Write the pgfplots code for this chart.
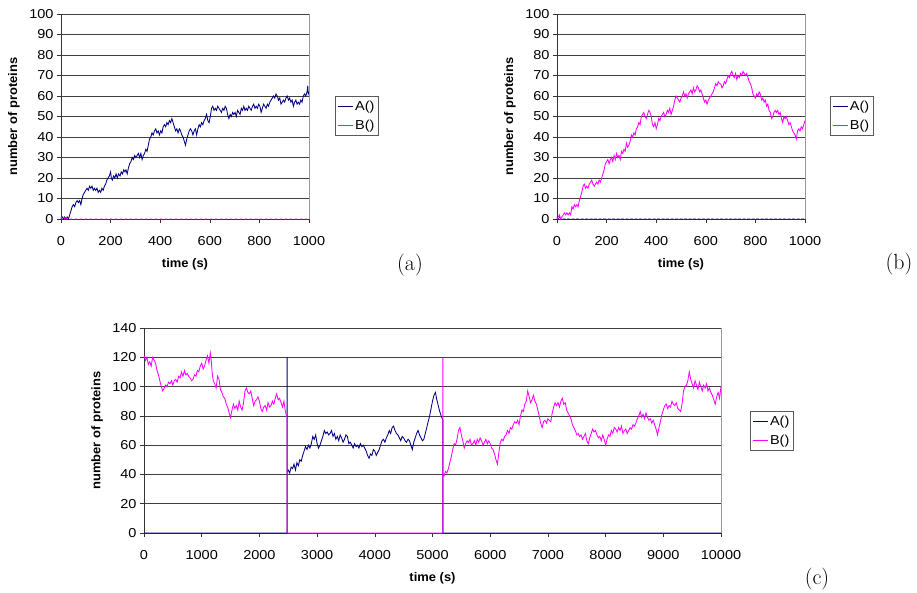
\documentclass[border=0pt]{standalone}
\usepackage{fontspec}
\usepackage{pgfplots}
\pgfplotsset{compat=1.18}
\newfontfamily\arialx{Liberation Sans}[FakeStretch=1.12]
\newfontfamily\arialb{Liberation Sans}[FakeStretch=1.04]
\newcommand\tickfont{\fontsize{13}{15}\arialx}
\newcommand\legfont{\fontsize{13}{15}\arialx}
\newcommand\labfont{\fontsize{12.5}{14}\arialb\bfseries}
\definecolor{navyA}{RGB}{0,0,128}
\definecolor{magB}{RGB}{255,0,255}
\pgfplotsset{
  chartstyle/.style={
    scale only axis, height=205bp, clip=false,
    axis x line*=bottom, axis y line*=left,
    axis line style={black!80, line width=0.6bp, -},
    ymajorgrids, grid style={black!75, line width=0.6bp},
    tick align=outside, major tick length=4bp,
    tick style={black!80, line width=0.6bp},
    scaled x ticks=false, scaled y ticks=false,
    /pgf/number format/assume math mode=true,
    /pgf/number format/1000 sep={},
    tick label style={font=\tickfont},
    xticklabel style={yshift=-10bp},
    label style={font=\labfont},
    xlabel style={at={(axis description cs:0.5,-0.22)}, anchor=center},
    legend style={draw=black!65, line width=0.6bp, font=\legfont, cells={anchor=west}, inner xsep=2bp, inner ysep=2.5bp, row sep=4bp},
    legend image code/.code={\draw[#1, solid] (0bp,0bp) -- (15bp,0bp);},
    every axis plot/.append style={line width=0.85bp},
  }
}
\begin{document}
\begin{tikzpicture}
\path[use as bounding box] (0,0) rectangle (917bp,-593bp);
% (a)
\begin{axis}[chartstyle, width=248bp, at={(61bp,-219bp)}, anchor=south west,
  xmin=0, xmax=1000, ymin=0, ymax=100,
  xtick={0,200,...,1000}, ytick={0,10,...,100},
  xlabel={time (s)}, ylabel={number of proteins},
  ylabel style={at={(axis description cs:-0.19,0.5)}, anchor=center},
  legend style={at={(1.105,0.6)}, anchor=north west}]
\addplot[navyA] coordinates {(0,0) (5,1) (10,0) (15,1) (20,0) (25,1) (30,0) (35,2) (40,4) (45,6) (50,7) (55,6) (60,8) (65,9) (70,8) (75,9) (80,7) (85,10) (90,12) (95,13) (100,14) (105,15) (110,14) (115,16) (120,15) (125,16) (130,14) (135,15) (140,14) (145,15) (150,13) (155,14) (160,13) (165,15) (170,14) (175,16) (180,17) (185,19) (190,20) (195,21) (200,23) (203,20) (207,19) (212,21) (217,20) (222,22) (227,20) (232,22) (238,21) (243,23) (248,22) (253,24) (258,23) (262,24) (267,22) (272,25) (277,27) (282,28) (287,30) (292,29) (297,31) (302,30) (307,31) (312,32) (317,30) (322,32) (327,29) (332,31) (337,32) (342,34) (347,33) (352,36) (357,39) (362,40) (367,42) (372,41) (377,43) (382,44) (387,42) (392,43) (397,41) (402,43) (407,42) (412,45) (417,46) (422,45) (427,47) (432,46) (437,48) (442,47) (447,49) (452,47) (457,45) (462,43) (467,44) (472,42) (477,44) (482,43) (487,41) (492,40) (497,38) (502,36) (507,39) (512,41) (517,43) (522,44) (527,43) (532,41) (537,43) (542,44) (547,41) (552,44) (557,46) (562,45) (567,47) (572,46) (577,48) (582,49) (587,51) (592,48) (597,47) (602,50) (607,54) (612,55) (617,53) (622,54) (627,53) (632,55) (637,54) (642,53) (647,52) (652,54) (657,53) (662,55) (667,54) (672,51) (677,49) (682,51) (687,50) (692,52) (697,51) (702,52) (707,50) (712,53) (717,52) (722,51) (727,54) (732,53) (737,55) (742,53) (747,54) (752,53) (757,55) (762,54) (767,53) (772,55) (777,56) (782,54) (787,55) (792,54) (797,56) (802,55) (807,52) (812,54) (817,56) (822,55) (827,54) (832,56) (837,55) (842,57) (847,58) (852,59) (857,60) (862,59) (867,61) (872,60) (877,58) (882,59) (887,56) (892,57) (897,58) (902,57) (907,59) (912,60) (917,58) (922,59) (927,57) (932,58) (937,55) (942,57) (947,58) (952,56) (957,57) (962,56) (967,58) (972,57) (977,60) (982,61) (987,60) (992,62) (995,65) (997,61) (1000,62)};
\addlegendentry{A()}
\addplot[magB, dash pattern=on 2bp off 3bp] coordinates {(0,1) (5,0) (10,1) (15,0) (20,1) (25,0) (30,0) (1000,0)};
\addlegendentry{B()}
\draw[black!40, line width=0.6bp] (rel axis cs:1,0) -- (rel axis cs:1,1);
\end{axis}
% (b)
\begin{axis}[chartstyle, width=248bp, at={(557bp,-219bp)}, anchor=south west,
  xmin=0, xmax=1000, ymin=0, ymax=100,
  xtick={0,200,...,1000}, ytick={0,10,...,100},
  xlabel={time (s)}, ylabel={number of proteins},
  ylabel style={at={(axis description cs:-0.19,0.5)}, anchor=center},
  legend style={at={(1.1,0.6)}, anchor=north west}]
\addplot[navyA, dash pattern=on 3bp off 1.5bp] coordinates {(0,1) (5,0) (10,1) (15,0) (20,0) (1000,0)};
\addlegendentry{A()}
\addplot[magB] coordinates {(0,0) (5,1) (10,2) (15,0) (20,1) (25,2) (30,3) (35,2) (40,3) (45,2) (50,3) (55,2) (60,6) (65,5) (70,7) (75,6) (80,7) (85,6) (90,9) (95,11) (100,13) (105,16) (110,17) (115,15) (120,16) (125,15) (130,17) (135,18) (140,19) (145,17) (150,16) (155,17) (160,18) (165,17) (170,19) (175,18) (180,20) (185,22) (190,24) (195,27) (200,28) (205,29) (210,27) (215,29) (220,30) (225,28) (230,31) (235,29) (240,32) (245,30) (250,31) (255,29) (260,33) (265,32) (270,34) (275,33) (280,37) (285,35) (290,36) (295,38) (300,41) (305,40) (310,42) (315,41) (320,44) (325,45) (330,47) (335,46) (340,50) (345,51) (350,52) (355,50) (360,49) (365,51) (370,53) (375,52) (380,50) (385,46) (390,45) (395,47) (400,44) (405,46) (410,49) (415,48) (420,50) (425,51) (430,52) (435,50) (440,51) (445,53) (450,52) (455,54) (460,51) (465,53) (470,55) (475,58) (480,60) (485,59) (490,58) (495,57) (500,59) (505,60) (510,62) (515,60) (520,61) (525,59) (530,61) (535,62) (540,63) (545,61) (550,64) (555,62) (560,63) (565,65) (570,64) (575,62) (580,63) (585,61) (590,59) (595,57) (600,58) (605,56) (610,58) (615,59) (620,60) (625,61) (630,62) (635,64) (640,66) (645,65) (650,67) (655,66) (660,66) (665,64) (670,65) (675,67) (680,66) (685,68) (690,70) (695,69) (700,71) (705,72) (710,70) (715,69) (720,71) (725,68) (730,70) (735,69) (740,71) (745,70) (750,72) (755,71) (760,70) (765,71) (770,69) (775,67) (780,66) (785,64) (790,61) (795,60) (800,59) (805,61) (810,60) (815,62) (820,61) (825,58) (830,59) (835,57) (840,58) (845,55) (850,56) (855,53) (860,52) (865,49) (870,50) (875,52) (880,53) (885,52) (890,53) (895,51) (900,52) (905,49) (910,47) (915,50) (920,49) (925,50) (930,48) (935,46) (940,47) (945,45) (950,43) (955,42) (960,41) (965,39) (970,43) (975,44) (980,43) (985,45) (990,44) (995,46) (1000,48)};
\addlegendentry{B()}
\draw[black!40, line width=0.6bp] (rel axis cs:1,0) -- (rel axis cs:1,1);
\end{axis}
% (c)
\begin{axis}[chartstyle, width=577bp, at={(144bp,-533bp)}, anchor=south west,
  xmin=0, xmax=10000, ymin=0, ymax=140,
  xtick={0,1000,...,10000}, ytick={0,20,...,140},
  xlabel={time (s)}, ylabel={number of proteins},
  ylabel style={at={(axis description cs:-0.081,0.5)}, anchor=center},
  legend style={at={(1.05,0.595)}, anchor=north west}]
\addplot[navyA] coordinates {(0,0) (2480,0) (2480,120) (2480,42) (2500,43) (2525,41) (2550,45) (2575,44) (2600,47) (2625,43) (2650,48) (2675,46) (2700,50) (2725,49) (2750,53) (2775,56) (2800,59) (2825,57) (2850,60) (2875,58) (2900,61) (2925,66) (2950,64) (2975,67) (3000,61) (3025,58) (3050,60) (3075,63) (3100,66) (3125,70) (3150,68) (3175,69) (3200,67) (3225,68) (3250,70) (3275,66) (3300,68) (3325,64) (3350,66) (3375,63) (3400,67) (3425,65) (3450,62) (3475,64) (3500,67) (3525,66) (3550,61) (3575,62) (3600,60) (3625,58) (3650,61) (3675,59) (3700,60) (3725,58) (3750,61) (3775,59) (3800,60) (3825,58) (3850,56) (3875,53) (3900,51) (3925,54) (3950,53) (3975,57) (4000,56) (4025,53) (4050,55) (4075,57) (4100,60) (4125,63) (4150,64) (4175,62) (4200,65) (4225,67) (4250,70) (4275,68) (4300,72) (4325,73) (4350,70) (4375,68) (4400,67) (4425,65) (4450,63) (4475,66) (4500,65) (4525,63) (4550,62) (4575,64) (4600,63) (4625,60) (4650,57) (4675,62) (4700,65) (4725,68) (4750,70) (4775,67) (4800,65) (4825,63) (4850,64) (4875,68) (4900,72) (4925,76) (4950,80) (4975,85) (5000,90) (5025,94) (5050,96) (5075,91) (5100,87) (5125,83) (5150,80) (5180,77) (5180,0) (10000,0)};
\addlegendentry{A()}
\addplot[magB] coordinates {(0,121) (25,118) (50,120) (75,115) (100,117) (125,114) (150,120) (175,118) (200,116) (225,111) (250,108) (275,104) (300,100) (325,97) (350,99) (375,101) (400,100) (425,103) (450,102) (475,104) (500,101) (525,104) (550,105) (575,103) (600,107) (625,106) (650,110) (675,107) (700,111) (725,108) (750,109) (775,107) (800,106) (825,104) (850,105) (875,108) (900,107) (925,111) (950,110) (975,114) (1000,116) (1025,112) (1050,114) (1075,118) (1100,121) (1125,116) (1150,123) (1165,118) (1180,110) (1200,104) (1225,102) (1250,99) (1275,107) (1300,105) (1325,98) (1350,96) (1375,93) (1400,92) (1425,88) (1450,86) (1475,82) (1500,79) (1525,84) (1550,88) (1575,85) (1600,87) (1625,84) (1650,90) (1675,86) (1700,84) (1725,89) (1750,97) (1775,99) (1800,96) (1825,95) (1850,97) (1875,92) (1900,87) (1925,90) (1950,91) (1975,93) (2000,90) (2025,85) (2050,83) (2075,86) (2100,87) (2125,84) (2150,89) (2175,86) (2200,87) (2225,90) (2250,88) (2275,92) (2300,95) (2325,91) (2350,92) (2375,89) (2400,86) (2425,90) (2450,83) (2470,80) (2480,79) (2480,0) (5180,0) (5180,120) (5180,40) (5200,39) (5225,42) (5250,41) (5275,44) (5300,48) (5325,52) (5350,57) (5375,61) (5400,60) (5425,64) (5450,70) (5475,72) (5500,67) (5525,63) (5550,58) (5575,61) (5600,63) (5625,62) (5650,64) (5675,60) (5700,61) (5725,63) (5750,60) (5775,64) (5800,62) (5825,65) (5850,63) (5875,60) (5900,62) (5925,64) (5950,61) (5975,63) (6000,61) (6025,58) (6050,57) (6075,54) (6100,50) (6125,47) (6150,55) (6175,62) (6200,64) (6225,63) (6250,66) (6275,67) (6300,70) (6325,68) (6350,72) (6375,71) (6400,74) (6425,76) (6450,75) (6475,77) (6500,74) (6525,80) (6550,84) (6575,83) (6600,88) (6625,90) (6650,97) (6675,93) (6700,89) (6725,91) (6750,94) (6775,90) (6800,88) (6825,84) (6850,80) (6875,75) (6900,72) (6925,76) (6950,77) (6975,75) (7000,78) (7025,77) (7050,76) (7075,82) (7100,86) (7125,89) (7150,87) (7175,89) (7200,86) (7225,90) (7250,92) (7275,88) (7300,89) (7325,84) (7350,82) (7375,80) (7400,78) (7425,74) (7450,72) (7475,70) (7500,67) (7525,68) (7550,66) (7575,67) (7600,64) (7625,66) (7650,68) (7675,63) (7700,61) (7725,65) (7750,68) (7775,71) (7800,69) (7825,70) (7850,67) (7875,65) (7900,66) (7925,63) (7950,67) (7975,64) (8000,60) (8025,64) (8050,67) (8075,66) (8100,70) (8125,68) (8150,72) (8175,71) (8200,69) (8225,72) (8250,70) (8275,73) (8300,68) (8325,70) (8350,71) (8375,68) (8400,70) (8425,72) (8450,71) (8475,74) (8500,73) (8525,75) (8550,78) (8575,80) (8600,83) (8625,79) (8650,81) (8675,78) (8700,82) (8725,79) (8750,77) (8775,78) (8800,75) (8825,77) (8850,74) (8875,71) (8900,67) (8925,72) (8950,76) (8975,81) (9000,84) (9025,87) (9050,88) (9075,85) (9100,87) (9125,86) (9150,90) (9175,88) (9200,87) (9225,89) (9250,85) (9275,84) (9300,83) (9325,88) (9350,97) (9375,100) (9400,101) (9425,104) (9450,110) (9475,105) (9500,102) (9525,99) (9550,104) (9575,101) (9600,98) (9625,103) (9650,100) (9675,97) (9700,101) (9725,99) (9750,102) (9775,97) (9800,99) (9825,96) (9850,94) (9875,91) (9900,88) (9925,93) (9950,96) (9975,92) (10000,100)};
\addlegendentry{B()}
\draw[black!40, line width=0.6bp] (rel axis cs:1,0) -- (rel axis cs:1,1);
\end{axis}
\node at (410bp,-265bp) {\fontsize{22}{26}\selectfont (a)};
\node at (899bp,-264bp) {\fontsize{22}{26}\selectfont (b)};
\node at (817bp,-579bp) {\fontsize{22}{26}\selectfont (c)};
\end{tikzpicture}
\end{document}
